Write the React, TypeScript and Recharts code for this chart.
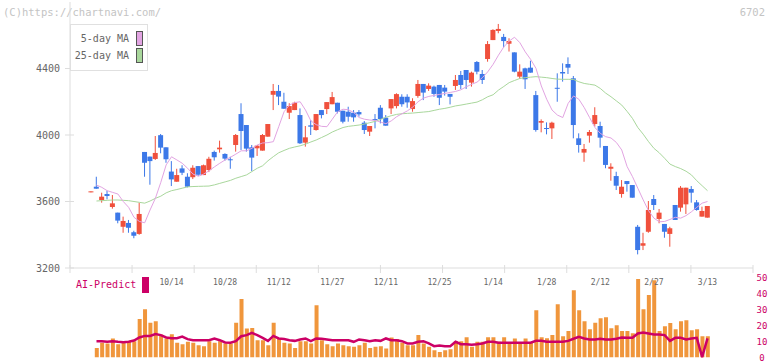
import { ComposedChart, Bar, Line, XAxis, YAxis, Legend } from 'recharts'

// daily candles, index 0 = first session shown
const opens = [
  3661, 3689, 3609, 3645, 3567, 3533, 3448, 3471, 3415, 3405,
  3898, 3870, 3856, 3999, 3926, 3780, 3719, 3799, 3749, 3746,
  3813, 3759, 3789, 3898, 3914, 3886, 3854, 3940, 4126, 4060,
  3926, 3920, 3906, 3990, 4242, 4265, 4200, 4134, 4150, 4120,
  3954, 4058, 4030, 4150, 4156, 4185, 4194, 4146, 4140, 4134,
  4138, 4074, 4020, 4096, 4164, 4104, 4160, 4174, 4230, 4230,
  4156, 4235, 4307, 4277, 4291, 4301, 4285, 4247, 4295, 4361,
  4391, 4315, 4439, 4367, 4457, 4571, 4626, 4590, 4549, 4497,
  4351, 4401, 4405, 4240, 4074, 4042, 4040, 4284, 4379, 4427,
  4341, 3980, 3894, 3996, 4066, 4054, 3934, 3797, 3753, 3645,
  3723, 3699, 3448, 3334, 3418, 3615, 3495, 3465, 3405, 3579,
  3563, 3583, 3675, 3595, 3509, 3503,
]
const highs = [
  3661, 3749, 3653, 3665, 3639, 3533, 3509, 3489, 3424, 3593,
  3898, 3870, 3994, 4006, 3926, 3843, 3797, 3818, 3770, 3818,
  3813, 3822, 3869, 3906, 3966, 3890, 3869, 4006, 4191, 4060,
  3940, 3940, 4006, 4066, 4307, 4301, 4254, 4191, 4200, 4160,
  4054, 4090, 4126, 4150, 4198, 4259, 4194, 4146, 4170, 4150,
  4150, 4084, 4054, 4126, 4180, 4120, 4216, 4251, 4245, 4245,
  4221, 4331, 4307, 4311, 4297, 4301, 4301, 4247, 4361, 4385,
  4391, 4381, 4445, 4391, 4565, 4636, 4668, 4608, 4582, 4497,
  4425, 4405, 4447, 4265, 4094, 4076, 4080, 4371, 4431, 4467,
  4355, 4010, 3946, 4030, 4167, 4080, 3934, 3830, 3779, 3729,
  3723, 3699, 3459, 3412, 3603, 3639, 3555, 3465, 3448, 3579,
  3693, 3683, 3693, 3609, 3569, 3573,
]
const lows = [
  3661, 3677, 3593, 3613, 3557, 3469, 3412, 3412, 3379, 3400,
  3749, 3701, 3850, 3890, 3833, 3693, 3719, 3759, 3685, 3735,
  3753, 3759, 3777, 3846, 3894, 3846, 3797, 3900, 3910, 3900,
  3783, 3874, 3906, 3990, 4150, 4180, 4158, 4096, 4150, 3946,
  3930, 4000, 4026, 4100, 4126, 4185, 4130, 4070, 4080, 4080,
  4110, 4006, 3994, 4040, 4070, 4056, 4126, 4160, 4170, 4164,
  4140, 4224, 4210, 4265, 4230, 4180, 4237, 4184, 4271, 4277,
  4277, 4291, 4365, 4307, 4441, 4571, 4612, 4527, 4502, 4377,
  4337, 4277, 4375, 4020, 4016, 4004, 3976, 4200, 4321, 4367,
  3980, 3894, 3839, 3954, 4050, 3924, 3800, 3725, 3669, 3623,
  3659, 3623, 3282, 3308, 3412, 3549, 3469, 3382, 3328, 3489,
  3539, 3525, 3593, 3545, 3509, 3503,
]
const closes = [
  3661, 3677, 3629, 3633, 3589, 3485, 3483, 3442, 3394, 3525,
  3833, 3843, 3892, 3924, 3854, 3733, 3759, 3773, 3689, 3803,
  3761, 3818, 3857, 3866, 3924, 3858, 3850, 4000, 4024, 3918,
  3864, 3936, 4000, 4066, 4265, 4231, 4158, 4174, 4194, 3950,
  3986, 4050, 4126, 4120, 4198, 4228, 4140, 4080, 4110, 4106,
  4124, 4030, 4054, 4090, 4096, 4056, 4216, 4246, 4185, 4196,
  4204, 4307, 4255, 4297, 4247, 4224, 4261, 4230, 4331, 4301,
  4331, 4375, 4381, 4331, 4547, 4632, 4638, 4565, 4565, 4381,
  4381, 4335, 4375, 4030, 4084, 4038, 4074, 4280, 4370, 4405,
  4060, 3940, 3916, 4018, 4120, 3984, 3820, 3809, 3695, 3689,
  3705, 3623, 3308, 3349, 3549, 3579, 3533, 3418, 3439, 3489,
  3683, 3683, 3653, 3549, 3543, 3573,
]
const ma5 = [
  null,
  3699, 3685, 3665, 3655, 3645, 3600, 3565, 3505, 3480, 3472,
  3549, 3620, 3715, 3820, 3869, 3850, 3830, 3800, 3765, 3752,
  3765, 3785, 3808, 3830, 3850, 3866, 3885, 3905, 3905, 3920,
  3940, 3952, 3954, 3960, 4050, 4140, 4180, 4195, 4200, 4150,
  4085, 4062, 4052, 4050, 4095, 4140, 4155, 4152, 4135, 4105,
  4095, 4090, 4088, 4078, 4068, 4085, 4110, 4128, 4145, 4168,
  4200, 4222, 4232, 4238, 4244, 4250, 4256, 4262, 4272, 4290,
  4305, 4318, 4345, 4380, 4425, 4480, 4530, 4565, 4588, 4555,
  4500, 4455, 4401, 4295, 4215, 4150, 4120, 4105, 4190, 4235,
  4215, 4165, 4105, 4045, 4010, 3990, 3982, 3955, 3910, 3810,
  3750, 3680, 3610, 3545, 3500, 3478, 3480, 3492, 3505, 3500,
  3515, 3538, 3565, 3590, 3600,
]
const ma25 = [
  null,
  3603, 3605, 3607, 3609, 3609, 3607, 3605, 3600, 3595, 3590,
  3603, 3619, 3632, 3652, 3665, 3672, 3680, 3688, 3690, 3691,
  3692, 3693, 3700, 3709, 3718, 3727, 3740, 3750, 3760, 3780,
  3800, 3815, 3845, 3870, 3893, 3907, 3920, 3928, 3935, 3945,
  3958, 3970, 3985, 4000, 4018, 4032, 4045, 4052, 4056, 4060,
  4066, 4074, 4082, 4094, 4106, 4116, 4124, 4128, 4130, 4132,
  4135, 4138, 4141, 4148, 4155, 4160, 4167, 4175, 4180, 4186,
  4192, 4198, 4212, 4230, 4242, 4270, 4292, 4315, 4328, 4340,
  4345, 4348, 4351, 4348, 4345, 4340, 4336, 4335, 4335, 4334,
  4320, 4310, 4305, 4300, 4280, 4252, 4230, 4205, 4180, 4142,
  4100, 4045, 4005, 3960, 3920, 3893, 3860, 3825, 3810, 3798,
  3782, 3760, 3725, 3695, 3665,
]
const volume = [
  null,
  6.0, 9.2, 8.8, 11.9, 8.3, 9.2, 10.2, 10.2, 24.0, 30.2,
  21.7, 22.7, 14.4, 11.9, 14.6, 9.2, 8.3, 9.8, 9.2, 7.7,
  7.1, 10.2, 9.2, 10.2, 8.8, 8.8, 21.7, 36.5, 18.1, 18.5,
  10.8, 10.8, 7.7, 21.7, 11.5, 9.2, 8.8, 6.0, 10.2, 10.2,
  8.8, 32.7, 10.8, 8.3, 7.1, 8.8, 7.7, 7.1, 6.7, 7.7,
  9.2, 6.0, 6.7, 7.1, 5.6, 12.5, 11.5, 9.2, 7.7, 7.7,
  14.0, 8.8, 6.7, 4.6, 3.5, 4.6, 5.2, 10.2, 10.2, 12.7,
  6.7, 9.8, 9.8, 12.7, 12.7, 9.8, 12.7, 9.2, 11.9, 9.2,
  11.9, 9.2, 29.6, 12.7, 12.1, 14.0, 33.3, 13.3, 16.5, 42.1,
  29.6, 22.7, 17.7, 21.7, 24.6, 25.2, 18.3, 20.2, 16.5, 16.5,
  15.2, 49.0, 30.2, 39.0, 48.3, 16.5, 19.6, 21.5, 17.7, 22.7,
  23.3, 17.1, 17.7, 13.3, 13.3,
]
const aiPredict = [
  null,
  10.2, 10.2, 9.8, 10.2, 9.8, 9.6, 9.8, 10.6, 12.5, 13.5,
  13.5, 14.6, 14.0, 12.5, 12.1, 12.1, 13.1, 11.5, 10.8, 10.8,
  10.8, 10.8, 11.9, 10.8, 9.4, 9.2, 10.2, 13.3, 14.0, 15.4,
  14.0, 12.3, 10.4, 13.5, 11.9, 11.5, 10.8, 10.4, 11.3, 11.9,
  10.2, 11.9, 11.7, 11.3, 10.8, 10.8, 10.8, 10.8, 9.8, 11.3,
  10.8, 10.2, 10.8, 10.4, 11.9, 10.8, 10.8, 10.2, 8.8, 8.8,
  9.8, 10.2, 8.8, 7.1, 7.5, 7.1, 7.1, 9.8, 8.3, 8.3,
  7.9, 8.3, 8.8, 9.8, 9.8, 9.2, 9.2, 9.2, 9.2, 9.2,
  9.2, 9.2, 10.4, 10.4, 9.8, 9.8, 9.8, 9.8, 10.4, 11.7,
  12.9, 11.9, 11.3, 11.3, 11.7, 11.3, 11.3, 11.7, 12.5, 12.3,
  12.3, 15.0, 15.6, 15.0, 14.4, 14.4, 14.0, 10.4, 12.3, 12.3,
  11.3, 11.9, 12.3, 0.3, 11.9,
]

const dateTicks = [15, 25, 35, 45, 55, 65, 75, 85, 95, 105, 115]
const dateLabels = ['10/14', '10/28', '11/12', '11/27', '12/11', '12/25', '1/14', '1/28', '2/12', '2/27', '3/13']
const priceTicks = [3200, 3600, 4000, 4400]
const volTicks = [0, 10, 20, 30, 40, 50]
// eleven equal divisions of the time axis, in session-index units
const gridTicks = [-3.94, 7.64, 19.23, 30.81, 42.4, 53.98, 65.57, 77.15, 88.74, 100.32, 111.91, 123.49]
const maOrder = ['ma5', 'ma25']

const data = opens.map((o, i) => ({
  i,
  open: o,
  high: highs[i],
  low: lows[i],
  close: closes[i],
  range: [lows[i], highs[i]],
  ma5: ma5[i],
  ma25: ma25[i],
  vol: volume[i],
  ai: aiPredict[i],
}))

const FONT = '"DejaVu Sans Mono", monospace'
const UP = '#f0503c'
const DOWN = '#3c78e8'
const AXIS = '#dddddd'
const CRIMSON = '#cc0066'
const X_DOMAIN = [-3.94, 123.49]

function Candle(props: any) {
  const { x, y, width, height, payload } = props
  if (x == null || y == null) return null
  const top = Math.min(y, y + height)
  const h = Math.abs(height)
  const span = payload.high - payload.low
  const toY = (v: number) => (span === 0 ? top : top + ((payload.high - v) / span) * h)
  const color = payload.close >= payload.open ? UP : DOWN
  const bTop = toY(Math.max(payload.open, payload.close))
  const bBot = toY(Math.min(payload.open, payload.close))
  const cx = x + width / 2
  return (
    <g>
      <rect x={cx - 0.5} y={top} width={1} height={Math.max(h, 1)} fill={color} />
      <rect x={x} y={bTop} width={width} height={Math.max(bBot - bTop, 1)} fill={color} />
    </g>
  )
}

function PriceTick({ x, y, payload }: any) {
  return (
    <g>
      <line x1={x - 5} x2={x + 4} y1={y} y2={y} stroke={AXIS} />
      <text x={x - 10} y={y} dy={3.5} textAnchor="end" fontSize={10} fill="#666" fontFamily={FONT}>
        {payload.value}
      </text>
    </g>
  )
}

function GridTick({ x, y }: any) {
  return <line x1={x} x2={x} y1={y - 3} y2={y + 5} stroke={AXIS} />
}

function DateTick({ x, y, payload }: any) {
  const k = dateTicks.indexOf(payload.value)
  return (
    <text x={x} y={y + 4.5} dy={3} textAnchor="middle" fontSize={8} fill="#666" fontFamily={FONT}>
      {dateLabels[k]}
    </text>
  )
}

function VolTick({ x, y, payload }: any) {
  return (
    <text x={x + 9} y={y} dy={3} textAnchor="middle" fontSize={9} fill={CRIMSON} fontFamily={FONT}>
      {payload.value}
    </text>
  )
}

function MaLegend({ payload }: any) {
  const items = (payload || [])
    .filter((p: any) => maOrder.includes(p.dataKey))
    .sort((a: any, b: any) => maOrder.indexOf(a.dataKey) - maOrder.indexOf(b.dataKey))
  return (
    <div
      style={{
        width: 76,
        height: 45,
        border: '1px solid #e0e0e0',
        background: '#fff',
        fontFamily: FONT,
        fontSize: 10,
        color: '#666',
        position: 'relative',
      }}
    >
      {items.map((p: any, k: number) => (
        <div key={p.dataKey} style={{ position: 'absolute', left: 0, top: 6 + k * 17, width: 76, height: 15 }}>
          <span style={{ position: 'absolute', right: 18, top: 1, lineHeight: '13px', whiteSpace: 'nowrap' }}>
            {p.value}
          </span>
          <span
            style={{
              position: 'absolute',
              left: 65,
              top: 0,
              width: 5,
              height: 13,
              background: p.color,
              border: '1px solid #555',
            }}
          />
        </div>
      ))}
    </div>
  )
}

function AiLegend({ payload }: any) {
  const item = (payload || []).find((p: any) => p.dataKey === 'ai')
  if (!item) return null
  return (
    <div style={{ position: 'relative', width: 80, height: 16, fontFamily: FONT, fontSize: 10, color: CRIMSON }}>
      <span style={{ position: 'absolute', left: 0, top: 2, lineHeight: '12px', whiteSpace: 'nowrap' }}>{item.value}</span>
      <span style={{ position: 'absolute', left: 66, top: 0, width: 7, height: 16, background: CRIMSON }} />
    </div>
  )
}

export default function App() {
  return (
    <div style={{ position: 'absolute', left: 0, top: 0, width: 772, height: 361, background: '#fff', overflow: 'hidden' }}>
      <div style={{ position: 'absolute', left: 3, top: 6, fontFamily: FONT, fontSize: 10.5, lineHeight: '12px', color: '#c4c4c4' }}>
        (C)https://chartnavi.com/
      </div>
      <div style={{ position: 'absolute', right: 7, top: 6, fontFamily: FONT, fontSize: 10.5, lineHeight: '12px', color: '#c4c4c4' }}>
        6702
      </div>

      <div style={{ position: 'absolute', left: 0, top: 0 }}>
        <ComposedChart width={772} height={275} data={data} margin={{ top: 2, right: 19, bottom: 0, left: 0 }}>
          <XAxis
            dataKey="i"
            type="number"
            domain={X_DOMAIN}
            allowDataOverflow
            ticks={gridTicks}
            interval={0}
            height={7}
            tickSize={0}
            tickMargin={0}
            tickLine={false}
            axisLine={{ stroke: AXIS }}
            tick={<GridTick />}
          />
          <YAxis
            domain={[3200, 4800]}
            ticks={priceTicks}
            interval={0}
            allowDataOverflow
            width={70}
            tickSize={0}
            tickMargin={0}
            tickLine={false}
            axisLine={{ stroke: AXIS }}
            tick={<PriceTick />}
          />
          <Legend
            layout="vertical"
            align="center"
            verticalAlign="middle"
            wrapperStyle={{ left: 70, top: 24, width: 'auto', height: 'auto' }}
            content={<MaLegend />}
          />
          <Line dataKey="ma25" name="25-day MA" stroke="#a9d79c" strokeWidth={1} dot={false} activeDot={false} isAnimationActive={false} />
          <Line dataKey="ma5" name="5-day MA" stroke="#e2a4e2" strokeWidth={1} dot={false} activeDot={false} isAnimationActive={false} />
          <Bar dataKey="range" barSize={5} legendType="none" shape={<Candle />} isAnimationActive={false} />
        </ComposedChart>
      </div>

      <div style={{ position: 'absolute', left: 0, top: 270 }}>
        <ComposedChart width={772} height={91} data={data} margin={{ top: 0, right: 0, bottom: 3.5, left: 70 }}>
          <XAxis
            dataKey="i"
            type="number"
            orientation="top"
            domain={X_DOMAIN}
            allowDataOverflow
            ticks={dateTicks}
            interval={0}
            height={7.5}
            tickSize={0}
            tickMargin={0}
            tickLine={false}
            axisLine={false}
            tick={<DateTick />}
          />
          <YAxis
            orientation="right"
            domain={[0, 50]}
            ticks={volTicks}
            interval={0}
            allowDataOverflow
            width={19}
            tickSize={0}
            tickMargin={0}
            tickLine={false}
            axisLine={false}
            tick={<VolTick />}
          />
          <Legend
            layout="vertical"
            align="center"
            verticalAlign="middle"
            wrapperStyle={{ left: 76, top: 7, width: 'auto', height: 'auto' }}
            content={<AiLegend />}
          />
          <Bar dataKey="vol" barSize={4} fill="#f0963c" legendType="none" isAnimationActive={false} />
          <Line dataKey="ai" name="AI-Predict" stroke={CRIMSON} strokeWidth={2.5} dot={false} activeDot={false} isAnimationActive={false} />
        </ComposedChart>
      </div>
    </div>
  )
}
